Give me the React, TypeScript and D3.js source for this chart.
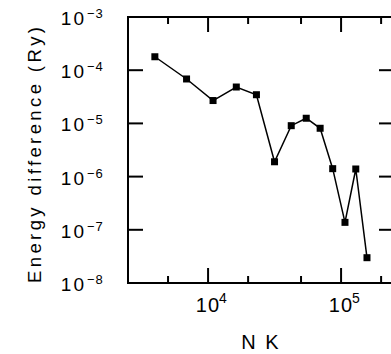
import React, { useEffect, useRef } from "react";
import * as d3 from "d3";

// N K values and energy differences (Ry)
const nk = [3980, 6890, 10900, 16300, 23100, 31600, 42200, 54700, 69600, 86500, 107000, 129000, 156600];
const diff = [1.79e-4, 6.84e-5, 2.69e-5, 4.83e-5, 3.46e-5, 1.9e-6, 9.06e-6, 1.25e-5, 8.1e-6, 1.41e-6, 1.38e-7, 1.39e-6, 2.99e-8];

const xMajor = [1e4, 1e5];
const xMinor = [5e3, 2e4, 5e4, 2e5];
const xLabels = ["4", "5"];
const yMajor = [1e-3, 1e-4, 1e-5, 1e-6, 1e-7, 1e-8];
const yLabels = ["\u22123", "\u22124", "\u22125", "\u22126", "\u22127", "\u22128"];

const App = () => {
  const ref = useRef<SVGSVGElement>(null);

  useEffect(() => {
    const svg = d3.select(ref.current);
    svg.selectAll("*").remove();

    const left = 128;
    const right = 394;
    const top = 17;
    const bottom = 283;
    const font = "'Liberation Sans', Arial, Helvetica, sans-serif";

    const x = d3.scaleLog().domain([2500, 250000]).range([left, right]);
    const y = d3.scaleLog().domain([1e-8, 1e-3]).range([bottom, top]);

    // frame
    svg
      .append("rect")
      .attr("x", left)
      .attr("y", top)
      .attr("width", right - left)
      .attr("height", bottom - top)
      .attr("fill", "none")
      .attr("stroke", "#000")
      .attr("stroke-width", 2);

    const ticks = svg.append("g").attr("stroke", "#000").attr("stroke-width", 2);

    // x ticks, bottom and top
    const xt = (vals: number[], len: number) => {
      vals.forEach((v) => {
        ticks.append("line").attr("x1", x(v)).attr("x2", x(v)).attr("y1", bottom).attr("y2", bottom - len);
        ticks.append("line").attr("x1", x(v)).attr("x2", x(v)).attr("y1", top).attr("y2", top + len);
      });
    };
    xt(xMajor, 15);
    xt(xMinor, 7);

    // y ticks, left and right
    yMajor.forEach((v) => {
      ticks.append("line").attr("x1", left).attr("x2", left + 15).attr("y1", y(v)).attr("y2", y(v));
      ticks.append("line").attr("x1", right).attr("x2", right - 15).attr("y1", y(v)).attr("y2", y(v));
    });

    const labels = svg.append("g").attr("font-family", font).attr("fill", "#000");

    // y tick labels
    yMajor.forEach((v, i) => {
      labels
        .append("text")
        .attr("x", 86)
        .attr("y", y(v) + 8)
        .attr("text-anchor", "end")
        .attr("font-size", 19)
        .attr("letter-spacing", 2)
        .text("10");
      labels
        .append("text")
        .attr("x", 87)
        .attr("y", y(v) + 1)
        .attr("font-size", 13)
        .attr("letter-spacing", 1)
        .text(yLabels[i]);
    });

    // x tick labels
    xMajor.forEach((v, i) => {
      labels
        .append("text")
        .attr("x", x(v) + 12)
        .attr("y", 311.5)
        .attr("text-anchor", "end")
        .attr("font-size", 20)
        .attr("letter-spacing", 1)
        .text("10");
      labels
        .append("text")
        .attr("x", x(v) + 11)
        .attr("y", 303)
        .attr("font-size", 14)
        .text(xLabels[i]);
    });

    // axis titles
    labels
      .append("text")
      .attr("x", (left + right) / 2)
      .attr("y", 349)
      .attr("text-anchor", "middle")
      .attr("font-size", 20)
      .attr("letter-spacing", 2)
      .text("N K");

    labels
      .append("text")
      .attr("transform", "rotate(-90)")
      .attr("x", -155)
      .attr("y", 41)
      .attr("text-anchor", "middle")
      .attr("font-size", 18.5)
      .attr("textLength", 256)
      .attr("lengthAdjust", "spacing")
      .text("Energy difference (Ry)");

    // data
    const pts = nk.map((d, i) => [d, diff[i]] as [number, number]);
    const line = d3
      .line<[number, number]>()
      .x((d) => x(d[0]))
      .y((d) => y(d[1]));

    svg
      .append("path")
      .attr("d", line(pts))
      .attr("fill", "none")
      .attr("stroke", "#000")
      .attr("stroke-width", 1.5);

    svg
      .selectAll("marks")
      .data(pts)
      .enter()
      .append("rect")
      .attr("x", (d) => x(d[0]) - 3.5)
      .attr("y", (d) => y(d[1]) - 3.5)
      .attr("width", 7)
      .attr("height", 7)
      .attr("fill", "#000");
  });

  return (
    <svg
      ref={ref}
      width={391}
      height={354}
      style={{ position: "absolute", left: 0, top: 0, background: "#fff" }}
    />
  );
};

export default App;
